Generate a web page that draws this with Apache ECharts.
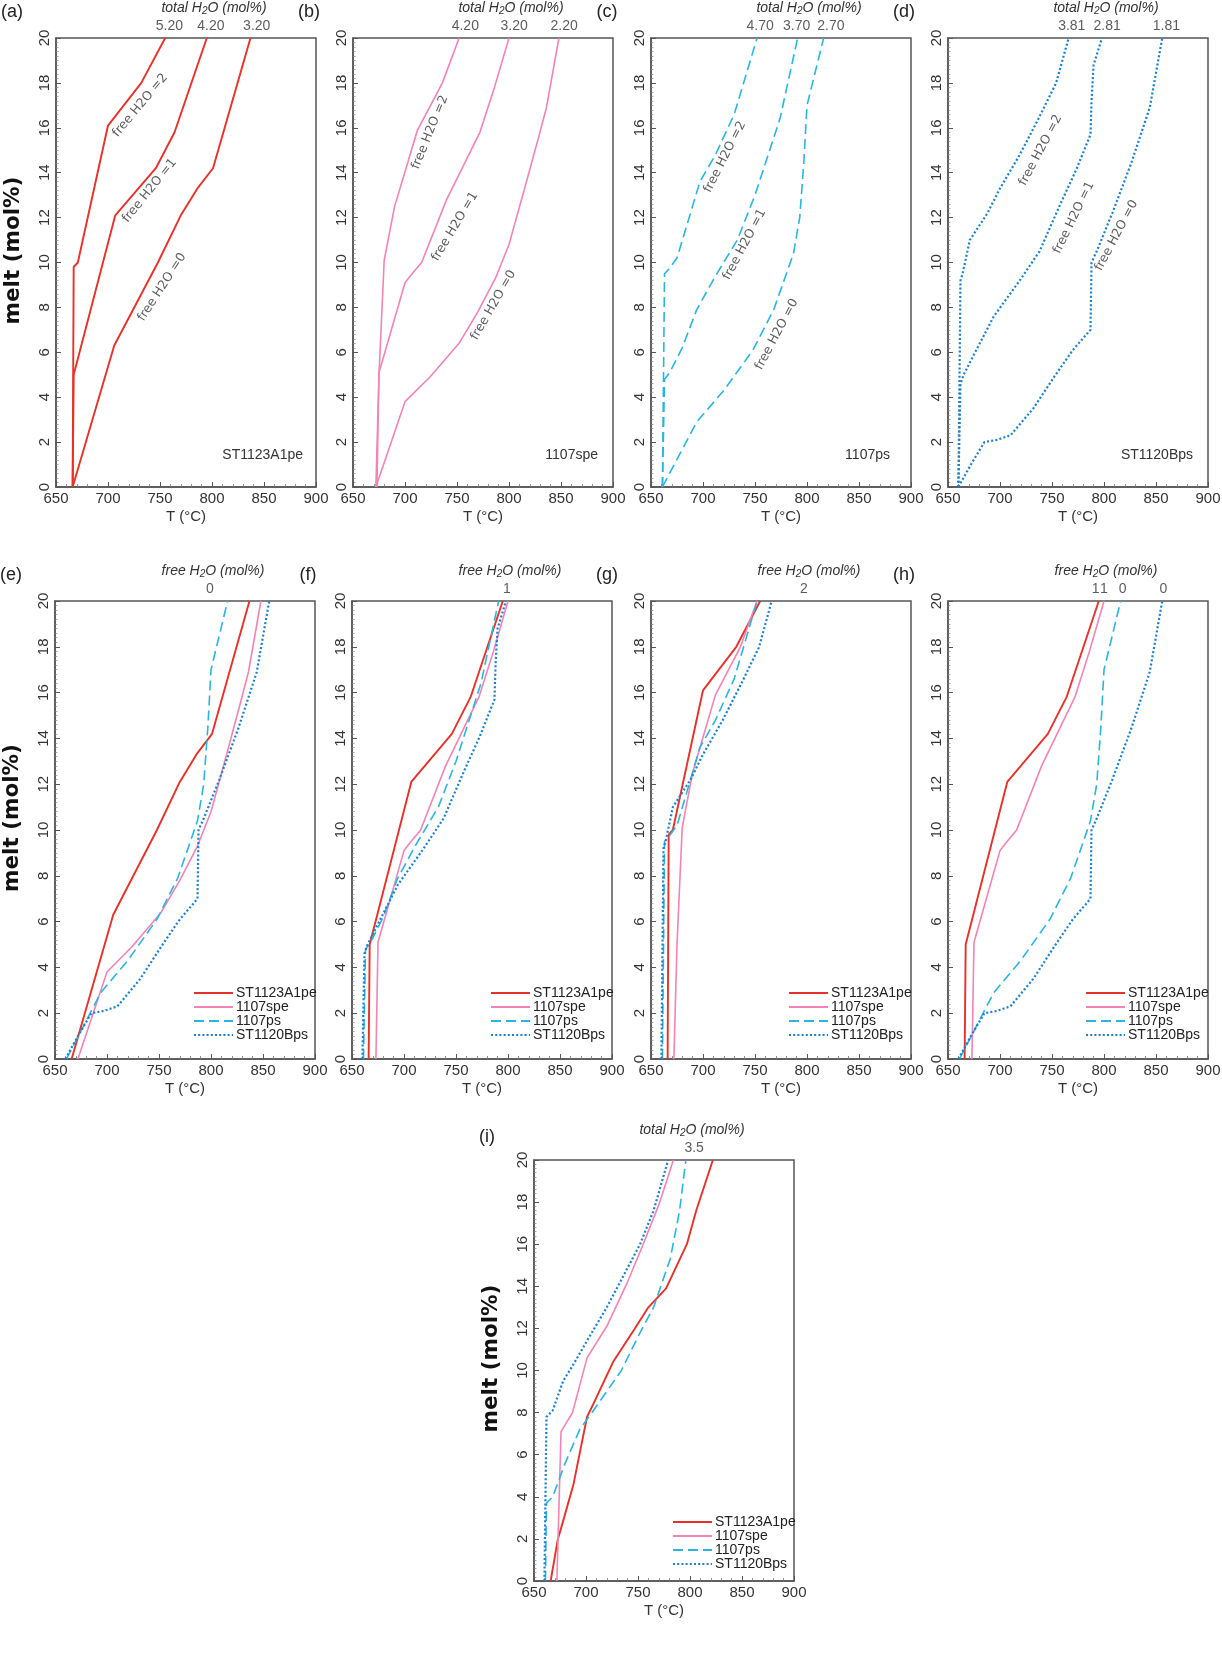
<!DOCTYPE html>
<html><head><meta charset="utf-8">
<script src="https://cdn.jsdelivr.net/npm/echarts@6/dist/echarts.min.js"></script>
<style>html,body{margin:0;padding:0;background:#fff}#c{width:1222px;height:1677px}</style>
</head><body><div id="c"></div><script>
// ---------------- DATA ----------------
// ST1123A1pe, free H2O = 0 / 1 / 2   [T (°C), melt (mol%)]
const red0 = [[666,0],[706,6.3],[748,10],[770,12.1],[786,13.3],[801,14.2],[837,20]];
const red1 = [[666,0],[667,5],[707,12.1],[746,14.2],[764,15.8],[795,20]];
const red2 = [[666,0],[667,9.8],[671,10],[700,16.1],[732,18],[755,20]];
// 1107spe
const pink0 = [[672,0],[700,3.8],[724,4.9],[752,6.4],[770,7.8],[787,9.3],[800,10.8],[815,13.3],[828,15.5],[836,16.9],[848,20]];
const pink1 = [[673,0],[675,5.1],[700,9.1],[705,9.4],[716,10],[740,12.8],[772,15.8],[786,17.8],[800,20]];
const pink2 = [[672,0],[675,5],[680,10.1],[690,12.5],[701,14.2],[712,15.9],[736,18],[752,20]];
// 1107ps
const cyan0 = [[661,0],[694,2.9],[720,4.3],[748,6.1],[768,7.9],[787,10.4],[793,12],[797,14.5],[800,17],[816,20]];
const cyan1 = [[661,0],[663,4.8],[668,5.1],[680,6.2],[694,7.9],[712,9.4],[733,11],[750,13],[774,16.4],[791,20]];
const cyan2 = [[661,0],[663,9.5],[667,9.7],[675,10.2],[688,12.2],[697,13.6],[712,14.8],[730,16.6],[752,20]];
// ST1120Bps
const blue0 = [[660,0],[672,1],[685,2],[697,2.1],[710,2.3],[732,3.5],[752,4.9],[770,6.1],[787,7],[788,10],[793,10.5],[808,12.2],[826,14.4],[844,16.9],[856,20]];
const blue1 = [[660,0],[662,4.6],[665,5],[675,5.9],[694,7.6],[719,9.2],[738,10.5],[758,12.6],[773,14.1],[787,15.7],[788,17.2],[790,18.8],[798,20]];
const blue2 = [[660,0],[662,9.2],[664,9.5],[671,11],[688,12.2],[700,13.3],[719,14.8],[738,16.5],[754,18],[766,20]];
// panel (i): total H2O = 3.5
const redI  = [[666,0],[673,2],[676,2.5],[688,4.6],[701,7.8],[706,8.3],[726,10.4],[747,12],[760,13],[777,13.9],[797,16],[806,17.6],[822,20]];
const pinkI = [[672,0],[676,7.1],[687,8],[701,10.6],[720,12.1],[739,14.1],[755,16],[771,18],[784,20]];
const cyanI = [[661,0],[662,3.7],[668,4],[680,5.6],[694,7.2],[710,8.3],[734,10],[752,11.8],[765,13],[781,15.3],[790,17.6],[796,20]];
const blueI = [[660,0],[662,7.8],[668,8.1],[678,9.5],[688,10.3],[702,11.5],[720,13],[736,14.5],[752,16],[765,17.6],[779,20]];

// samples
const samples = ['ST1123A1pe','1107spe','1107ps','ST1120Bps'];
// top tick labels and the temperatures they sit over
const topA = ['5.20','4.20','3.20'], topAT = [759,799,843];
const topB = ['4.20','3.20','2.20'], topBT = [758,805,853];
const topC = ['4.70','3.70','2.70'], topCT = [755,790,823];
const topD = ['3.81','2.81','1.81'], topDT = [769,803,860];
const topE = ['0'], topET = [799];
const topF = ['1'], topFT = [799];
const topG = ['2'], topGT = [797];
const topH = ['1','1','0','0'], topHT = [792,800,818,857];
const topI = ['3.5'], topIT = [804];
// curve annotations (text + anchor in data coords)
const annotText = ['free H2O =2','free H2O =1','free H2O =0'];
const annotA = [[731,17.0],[740,13.2],[752,8.9]];
const annotB = [[724,15.8],[748,11.6],[785,8.1]];
const annotC = [[721,14.7],[740,10.8],[771,6.8]];
const annotD = [[739,15.0],[771,12.0],[812,11.2]];
// axis ticks
const xTicks = [650,700,750,800,850,900];
const yTicks = [0,2,4,6,8,10,12,14,16,18,20];

// ---------------- STYLE / LAYOUT ----------------
const F = '"Liberation Sans", Arial, sans-serif';
const styles = {
  'ST1123A1pe': {color:'#e8302a', width:1.9, type:'solid'},
  '1107spe':    {color:'#f383b5', width:1.6, type:'solid'},
  '1107ps':     {color:'#2ab5e0', width:1.6, type:[10,5]},
  'ST1120Bps':  {color:'#1a7fcc', width:2.2, type:[2,2.2]}
};
const annotAngle = {a:[50,51,57], b:[68,59,60], c:[63,62,62], d:[62,64,62]};

const panels = [
  {id:'a', left:56,  top:38,   h:449, lines:[['ST1123A1pe',red0],['ST1123A1pe',red1],['ST1123A1pe',red2]], lab:topA, labT:topAT, title:'total', sample:'ST1123A1pe', sampleRight:303, annot:annotA, yname:true},
  {id:'b', left:353, top:38,   h:449, lines:[['1107spe',pink0],['1107spe',pink1],['1107spe',pink2]], lab:topB, labT:topBT, title:'total', sample:'1107spe', sampleRight:598, annot:annotB},
  {id:'c', left:651, top:38,   h:449, lines:[['1107ps',cyan0],['1107ps',cyan1],['1107ps',cyan2]], lab:topC, labT:topCT, title:'total', sample:'1107ps', sampleRight:890, annot:annotC},
  {id:'d', left:948, top:38,   h:449, lines:[['ST1120Bps',blue0],['ST1120Bps',blue1],['ST1120Bps',blue2]], lab:topD, labT:topDT, title:'total', sample:'ST1120Bps', sampleRight:1193, annot:annotD},
  {id:'e', left:55,  top:601,  h:458, lines:[['ST1123A1pe',red0],['1107spe',pink0],['1107ps',cyan0],['ST1120Bps',blue0]], lab:topE, labT:topET, title:'free', legend:[188,981], yname:true},
  {id:'f', left:352, top:601,  h:458, lines:[['ST1123A1pe',red1],['1107spe',pink1],['1107ps',cyan1],['ST1120Bps',blue1]], lab:topF, labT:topFT, title:'free', legend:[485,981]},
  {id:'g', left:651, top:601,  h:458, lines:[['ST1123A1pe',red2],['1107spe',pink2],['1107ps',cyan2],['ST1120Bps',blue2]], lab:topG, labT:topGT, title:'free', legend:[783,981]},
  {id:'h', left:948, top:601,  h:458, lines:[['ST1123A1pe',red1],['1107spe',pink1],['1107ps',cyan0],['ST1120Bps',blue0]], lab:topH, labT:topHT, title:'free', legend:[1080,981]},
  {id:'i', left:534, top:1160, h:421, lines:[['ST1123A1pe',redI],['1107spe',pinkI],['1107ps',cyanI],['ST1120Bps',blueI]], lab:topI, labT:topIT, title:'total', legend:[667,1510], legendH:13, yname:true}
];
const W = 260;

const grid=[], xAxis=[], yAxis=[], series=[], legend=[], graphic=[];
panels.forEach((p,i)=>{
  grid.push({left:p.left, top:p.top, width:W, height:p.h, show:true, borderColor:'#555', borderWidth:1.5, containLabel:false, outerBoundsMode:'none'});
  xAxis.push({type:'value', gridIndex:i, min:xTicks[0], max:xTicks[xTicks.length-1], interval:xTicks[1]-xTicks[0],
    name:'T (°C)', nameLocation:'middle', nameGap:22, nameTextStyle:{fontFamily:F, fontSize:15, color:'#333'},
    axisLine:{show:true, lineStyle:{color:'#555', width:1.5}},
    axisTick:{show:true, inside:true, length:5, lineStyle:{color:'#555', width:1}},
    minorTick:{show:true, splitNumber:5, length:3, lineStyle:{color:'#777', width:0.8}},
    axisLabel:{fontFamily:F, fontSize:15, color:'#333', margin:4},
    splitLine:{show:false}});
  yAxis.push({type:'value', gridIndex:i, min:yTicks[0], max:yTicks[yTicks.length-1], interval:yTicks[1]-yTicks[0],
    axisLine:{show:true, lineStyle:{color:'#555', width:1.5}},
    axisTick:{show:true, inside:true, length:5, lineStyle:{color:'#555', width:1}},
    minorTick:{show:true, splitNumber:10, length:2.5, lineStyle:{color:'#888', width:0.7}},
    axisLabel:{fontFamily:F, fontSize:15, color:'#333', margin:4, rotate:90},
    splitLine:{show:false}});
  p.lines.forEach(([name,data])=>{
    const s = styles[name];
    series.push({type:'line', name, xAxisIndex:i, yAxisIndex:i, data, symbol:'none', silent:true, z:3,
      itemStyle:{color:s.color}, lineStyle:{color:s.color, width:s.width, type:s.type}});
  });
  series.push({type:'scatter', name:'_top_'+p.id, xAxisIndex:i, yAxisIndex:i, symbolSize:1, silent:true, z:5,
    itemStyle:{color:'transparent'},
    label:{show:true, position:'top', distance:4, fontFamily:F, fontSize:14, color:'#333'},
    data:p.labT.map((t,k)=>({value:[t,yTicks[yTicks.length-1]], label:{formatter:p.lab[k]}}))});
  if (p.annot) {
    const ang = annotAngle[p.id];
    series.push({type:'scatter', name:'_annot_'+p.id, xAxisIndex:i, yAxisIndex:i, symbolSize:1, silent:true, z:5,
      itemStyle:{color:'transparent'},
      label:{show:true, position:'inside', fontFamily:'"DejaVu Sans", sans-serif', fontSize:12.5, color:'#333'},
      data:p.annot.map((a,k)=>({value:a, label:{formatter:annotText[k], rotate:ang[k]}}))});
  }
  if (p.legend) {
    legend.push({orient:'vertical', left:p.legend[0], top:p.legend[1], itemWidth:39, itemHeight:p.legendH||14, itemGap:0,
      selectedMode:false, data:samples, itemStyle:{opacity:0, color:'transparent', borderWidth:0},
      textStyle:{fontFamily:F, fontSize:14, color:'#222', padding:[0,0,0,-2]}});
  }
  // panel letter
  graphic.push({type:'text', x:(p.id==='i'? p.left-47 : p.left-44), y:p.top-(p.id==='i'?23:26), silent:true,
    style:{text:'('+p.id+')', font:'18px '+F, fill:'#222', align:'center', verticalAlign:'middle'}});
  // top title
  const pre = p.title==='total' ? 'total H' : 'free H';
  graphic.push({type:'text', x:p.left+158, y:p.top-30, silent:true,
    style:{text:pre+'{s|2}O (mol%)', font:'italic 14px '+F, fill:'#333', align:'center', verticalAlign:'middle',
      rich:{s:{font:'italic 10px '+F, fill:'#333', padding:[6,0,0,0]}}}});
  if (p.sample) {
    graphic.push({type:'text', x:p.sampleRight, y:p.top+p.h-32, silent:true,
      style:{text:p.sample, font:'14px '+F, fill:'#333', align:'right', verticalAlign:'middle'}});
  }
  if (p.yname) {
    graphic.push({type:'text', x:p.left-43, y:p.top+p.h/2-12, rotation:Math.PI/2, silent:true,
      style:{text:'melt (mol%)', font:'bold 21.5px "DejaVu Sans", sans-serif', fill:'#111', align:'center', verticalAlign:'middle'}});
  }
});

const chart = echarts.init(document.getElementById('c'));
chart.setOption({animation:false, backgroundColor:'#fff', grid, xAxis, yAxis, series, legend, graphic});
</script></body></html>
